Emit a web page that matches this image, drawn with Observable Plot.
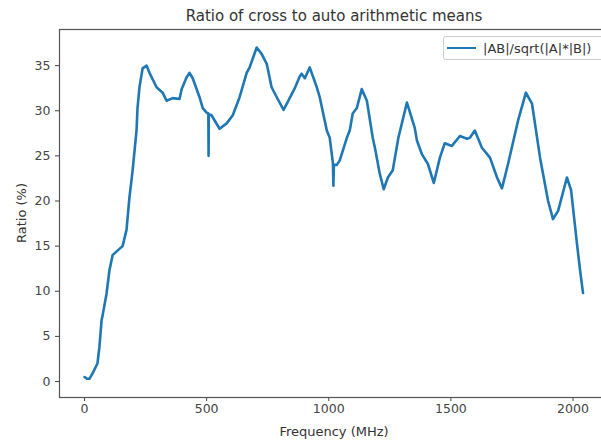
<!DOCTYPE html>
<html>
<head>
<meta charset="utf-8">
<script src="https://cdn.jsdelivr.net/npm/d3@7"></script>
<script src="https://cdn.jsdelivr.net/npm/@observablehq/plot@0.6"></script>
<style>
  html, body { margin: 0; padding: 0; background: #fff; }
  #chart { width: 601px; height: 443px; overflow: hidden; }
  svg { font-family: "DejaVu Sans", sans-serif; }
</style>
</head>
<body>
<div id="chart"></div>
<script>
const title = "Ratio of cross to auto arithmetic means";
const xLabel = "Frequency (MHz)";
const yLabel = "Ratio (%)";
const seriesName = "|AB|/sqrt(|A|*|B|)";
const xTicks = [0, 500, 1000, 1500, 2000];
const yTicks = [0, 5, 10, 15, 20, 25, 30, 35];

const freq = [0, 10, 20, 33, 53, 61, 70, 74, 90, 102, 115, 135, 156, 172, 184, 197, 213, 217, 225, 238, 254, 266, 295, 320, 336, 361, 389, 398, 418, 430, 443, 471, 484, 500, 507, 508, 509, 520, 553, 582, 607, 635, 664, 676, 705, 725, 746, 766, 791, 815, 840, 861, 881, 889, 902, 922, 951, 963, 992, 1004, 1017, 1019, 1021, 1033, 1045, 1074, 1086, 1098, 1115, 1135, 1156, 1180, 1189, 1209, 1225, 1242, 1262, 1285, 1320, 1352, 1361, 1381, 1406, 1430, 1455, 1475, 1504, 1537, 1566, 1578, 1598, 1627, 1660, 1689, 1709, 1734, 1775, 1807, 1832, 1865, 1898, 1918, 1939, 1975, 1992, 2016, 2029, 2041];
const ratio = [0.5, 0.3, 0.3, 0.9, 2.0, 3.8, 6.8, 7.3, 9.7, 12.3, 14.0, 14.5, 15.0, 16.8, 20.4, 23.4, 27.8, 30.3, 32.6, 34.7, 35.0, 34.2, 32.6, 32.0, 31.1, 31.4, 31.3, 32.4, 33.7, 34.2, 33.6, 31.5, 30.3, 29.8, 29.7, 25.0, 29.6, 29.5, 28.0, 28.6, 29.5, 31.5, 34.2, 34.8, 37.0, 36.3, 35.2, 32.6, 31.3, 30.1, 31.4, 32.5, 33.8, 34.1, 33.6, 34.8, 32.6, 31.5, 27.8, 27.0, 24.2, 21.7, 24.0, 24.0, 24.5, 27.0, 27.8, 29.7, 30.3, 32.4, 31.1, 27.0, 25.9, 23.0, 21.3, 22.6, 23.4, 27.0, 30.9, 28.1, 26.7, 25.2, 24.1, 22.0, 24.8, 26.4, 26.1, 27.2, 26.9, 27.0, 27.8, 25.9, 24.8, 22.6, 21.4, 24.1, 28.9, 32.0, 30.8, 24.8, 20.0, 18.0, 18.9, 22.6, 21.2, 15.3, 12.3, 9.8];

const data = freq.map((f, i) => ({f, r: ratio[i]}));
const blue = "#1f77b4";
const axisColor = "#444";

const plot = Plot.plot({
  width: 601,
  height: 443,
  marginLeft: 59,
  marginRight: -8,
  marginTop: 29,
  marginBottom: 46,
  style: {fontFamily: "DejaVu Sans, sans-serif", fontSize: "12.5px", color: axisColor, background: "#fff", overflow: "visible"},
  x: {domain: [-102.35, 2149.35], ticks: xTicks, label: null, tickSize: 4, tickPadding: 3, tickFormat: d3.format("d")},
  y: {domain: [-1.77, 39], ticks: yTicks, label: null, tickSize: 4, tickPadding: 5, tickFormat: d3.format("d")},
  marks: [
    Plot.frame({stroke: "#555", strokeWidth: 1.2}),
    Plot.line(data, {x: "f", y: "r", stroke: blue, strokeWidth: 2.6, strokeLinejoin: "round", strokeLinecap: "round"})
  ]
});

document.getElementById("chart").appendChild(plot);

const svg = d3.select(plot);
const [x0, x1] = plot.scale("x").range;
const cx = (x0 + x1) / 2;

svg.append("text")
  .attr("x", cx).attr("y", 21)
  .attr("text-anchor", "middle")
  .attr("font-size", 15)
  .attr("fill", "#333")
  .text(title);

svg.append("text")
  .attr("x", cx).attr("y", 436)
  .attr("text-anchor", "middle")
  .attr("font-size", 13)
  .attr("fill", "#333")
  .text(xLabel);

svg.append("text")
  .attr("transform", "translate(26,213) rotate(-90)")
  .attr("text-anchor", "middle")
  .attr("font-size", 13)
  .attr("fill", "#333")
  .text(yLabel);

const lg = svg.append("g");
lg.append("rect")
  .attr("x", 443.5).attr("y", 36.5).attr("width", 160).attr("height", 23)
  .attr("rx", 2).attr("fill", "#fff").attr("fill-opacity", 0.8)
  .attr("stroke", "#ccc");
lg.append("line")
  .attr("x1", 447).attr("x2", 476).attr("y1", 48).attr("y2", 48)
  .attr("stroke", blue).attr("stroke-width", 2);
lg.append("text")
  .attr("x", 483).attr("y", 48).attr("dy", "0.35em")
  .attr("text-anchor", "start")
  .attr("font-size", 13)
  .attr("fill", "#333")
  .text(seriesName);
</script>
</body>
</html>
